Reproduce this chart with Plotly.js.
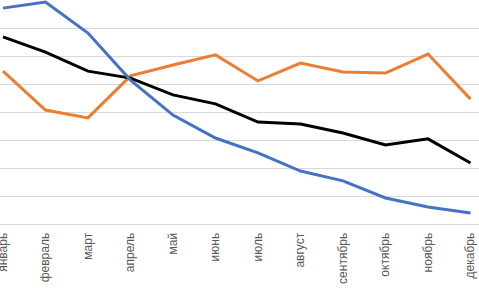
<!DOCTYPE html>
<html>
<head>
<meta charset="utf-8">
<script src="https://cdn.plot.ly/plotly-3.0.1.min.js"></script>
<style>html,body{margin:0;padding:0;background:#fff;}#chart{width:479px;height:293px;}</style>
</head>
<body>
<div id="chart"></div>
<script>
const months = ['январь','февраль','март','апрель','май','июнь','июль','август','сентябрь','октябрь','ноябрь','декабрь'];
const blueSeries = [7.71, 7.93, 6.82, 5.14, 3.89, 3.07, 2.54, 1.89, 1.54, 0.93, 0.61, 0.39];
const orangeSeries = [5.46, 4.07, 3.79, 5.29, 5.68, 6.04, 5.11, 5.75, 5.43, 5.39, 6.07, 4.46];
const blackSeries = [6.68, 6.14, 5.46, 5.21, 4.61, 4.29, 3.64, 3.57, 3.25, 2.82, 3.04, 2.18];

const mk = (y, color) => ({x: months, y: y, type: 'scatter', mode: 'lines', line: {color: color, width: 3}, hoverinfo: 'skip'});
const data = [mk(orangeSeries, '#ED7D31'), mk(blackSeries, '#000000'), mk(blueSeries, '#4472C4')];

const layout = {
  width: 479, height: 293,
  margin: {l: 0, r: 0, t: 0, b: 69, pad: 0},
  paper_bgcolor: '#ffffff', plot_bgcolor: '#ffffff',
  showlegend: false,
  font: {family: 'Liberation Sans, Arial, sans-serif', size: 12, color: '#595959'},
  xaxis: {type: 'category', range: [-0.07, 11.2], tickangle: -90, ticks: '', showgrid: false, ticklabelstandoff: 3,
          showline: true, linecolor: '#d9d9d9', linewidth: 1, zeroline: false, fixedrange: true},
  yaxis: {range: [0, 8], dtick: 1, showticklabels: false, showgrid: true, gridcolor: '#d9d9d9', gridwidth: 1,
          zeroline: false, showline: false, ticks: '', fixedrange: true}
};
Plotly.newPlot('chart', data, layout, {displayModeBar: false, staticPlot: true});
</script>
</body>
</html>
